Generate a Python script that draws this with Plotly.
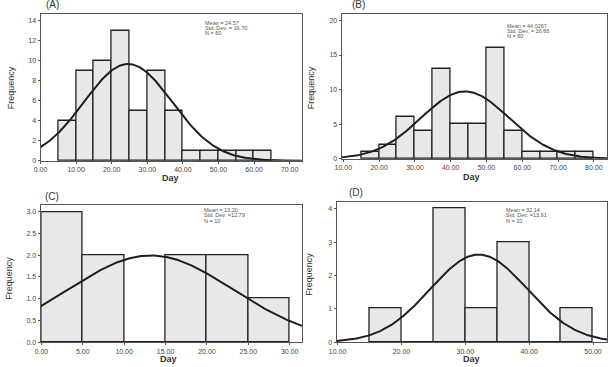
import numpy as np
import plotly.graph_objects as go

W, H = 611, 367

# ---- data ----
a_bin_start = [5, 10, 15, 20, 25, 30, 35, 40, 45, 50, 55, 60]
a_counts = [4, 9, 10, 13, 5, 9, 5, 1, 1, 1, 1, 1]
b_bin_start = [15, 20, 25, 30, 35, 40, 45, 50, 55, 60, 65, 70, 75]
b_counts = [1, 2, 6, 4, 13, 5, 5, 16, 4, 1, 1, 1, 1]
c_bin_start = [0, 5, 10, 15, 20, 25]
c_counts = [3, 2, 0, 2, 2, 1]
d_bin_start = [15, 20, 25, 30, 35, 40, 45]
d_counts = [1, 0, 4, 1, 3, 0, 1]
bin_width = 5

# fitted normal curve parameters as drawn (mean, sd)
a_curve = (24.6, 12.4)
b_curve = (44.0, 12.3)
c_curve = (13.2, 10.0)
d_curve = (32.1, 7.6)

a_stats = ["Mean = 24.57", "Std. Dev. = 16.70", "N = 60"]
b_stats = ["Mean = 44.0267", "Std. Dev. = 16.66", "N = 60"]
c_stats = ["Mean = 13.20", "Std. Dev. =12.79", "N = 10"]
d_stats = ["Mean = 32.14", "Std. Dev. =13.91", "N = 10"]

a_xticks = [0, 10, 20, 30, 40, 50, 60, 70]
b_xticks = [10, 20, 30, 40, 50, 60, 70, 80]
c_xticks = [0, 5, 10, 15, 20, 25, 30]
d_xticks = [10, 20, 30, 40, 50]

# ---- layout geometry (pixels) ----
panels = [
    dict(name="(A)", bins=a_bin_start, counts=a_counts, curve=a_curve, stats=a_stats,
         xt=a_xticks, xr=[0, 73.5], yr=[0, 14.65], yt=[0, 2, 4, 6, 8, 10, 12, 14], yfmt="d",
         box=(33, 298, 14, 162), lab=(45, 5), st=(198, 23), day=(165, 179), freq=(3, 88)),
    dict(name="(B)", bins=b_bin_start, counts=b_counts, curve=b_curve, stats=b_stats,
         xt=b_xticks, xr=[9.5, 83.7], yr=[0, 20.95], yt=[0, 5, 10, 15, 20], yfmt="d",
         box=(338, 607, 14, 160), lab=(355, 5), st=(504, 26), day=(470, 178), freq=(307, 88)),
    dict(name="(C)", bins=c_bin_start, counts=c_counts, curve=c_curve, stats=c_stats,
         xt=c_xticks, xr=[-0.1, 31.5], yr=[0, 3.15], yt=[0, 0.5, 1, 1.5, 2, 2.5, 3], yfmt=".1f",
         box=(33, 298, 207, 345), lab=(45, 198), st=(197, 212), day=(163, 362), freq=(1, 280)),
    dict(name="(D)", bins=d_bin_start, counts=d_counts, curve=d_curve, stats=d_stats,
         xt=d_xticks, xr=[9.85, 52.2], yr=[0, 4.19], yt=[0, 1, 2, 3, 4], yfmt="d",
         box=(333, 607, 204, 345), lab=(353, 194), st=(503, 212), day=(470, 362), freq=(305, 277)),
]

fig = go.Figure()
annotations = []
font = "Liberation Sans, Arial, sans-serif"

def px(x):
    return x / W

def py(y):
    return 1 - y / H

for i, p in enumerate(panels):
    n = "" if i == 0 else str(i + 1)
    xa, ya = "x" + n, "y" + n
    centers = [b + bin_width / 2 for b in p["bins"]]
    fig.add_trace(go.Bar(x=centers, y=p["counts"], width=bin_width, xaxis=xa, yaxis=ya,
                         marker=dict(color="#e7e9e9", line=dict(color="#222222", width=1.3)),
                         showlegend=False, hoverinfo="skip"))
    total = sum(p["counts"]) * bin_width
    mu, sd = p["curve"]
    xs = np.linspace(p["xr"][0], p["xr"][1], 300)
    ys = total / (sd * np.sqrt(2 * np.pi)) * np.exp(-(xs - mu) ** 2 / (2 * sd ** 2))
    fig.add_trace(go.Scatter(x=xs, y=ys, mode="lines", xaxis=xa, yaxis=ya,
                             line=dict(color="#1e1e1e", width=2), showlegend=False, hoverinfo="skip"))
    l, r, t, b = p["box"]
    axcommon = dict(showline=True, linecolor="#555555", linewidth=1, mirror=True,
                    ticks="outside", ticklen=2, tickcolor="#555555", showgrid=False, zeroline=False,
                    tickfont=dict(family=font, size=7, color="#444444"))
    fig.layout["xaxis" + n] = dict(domain=[px(l), px(r)], range=p["xr"], anchor=ya,
                                   tickvals=p["xt"], tickformat=".2f", **axcommon)
    fig.layout["yaxis" + n] = dict(domain=[py(b), py(t)], range=p["yr"], anchor=xa,
                                   tickvals=p["yt"], tickformat=p["yfmt"], **axcommon)
    annotations.append(dict(x=px(p["lab"][0]), y=py(p["lab"][1]), xref="paper", yref="paper",
                            text=p["name"], showarrow=False, xanchor="center", yanchor="middle",
                            font=dict(family=font, size=10, color="#333333")))
    annotations.append(dict(x=px(p["day"][0]), y=py(p["day"][1]), xref="paper", yref="paper",
                            text="<b>Day</b>", showarrow=False, xanchor="center", yanchor="middle",
                            font=dict(family=font, size=9, color="#333333")))
    annotations.append(dict(x=px(p["freq"][0]), y=py(p["freq"][1]), xref="paper", yref="paper",
                            text="Frequency", showarrow=False, xanchor="center", yanchor="middle",
                            textangle=-90, font=dict(family=font, size=9, color="#333333")))
    for k, s in enumerate(p["stats"]):
        annotations.append(dict(x=px(p["st"][0]), y=py(p["st"][1] + 5.2 * k), xref="paper", yref="paper",
                                text=s, showarrow=False, xanchor="left", yanchor="middle",
                                font=dict(family=font, size=5.5, color="#555555")))

fig.update_layout(width=W, height=H, margin=dict(l=0, r=0, t=0, b=0),
                  paper_bgcolor="white", plot_bgcolor="white", bargap=0,
                  annotations=annotations)

fig.write_html("out.html")
